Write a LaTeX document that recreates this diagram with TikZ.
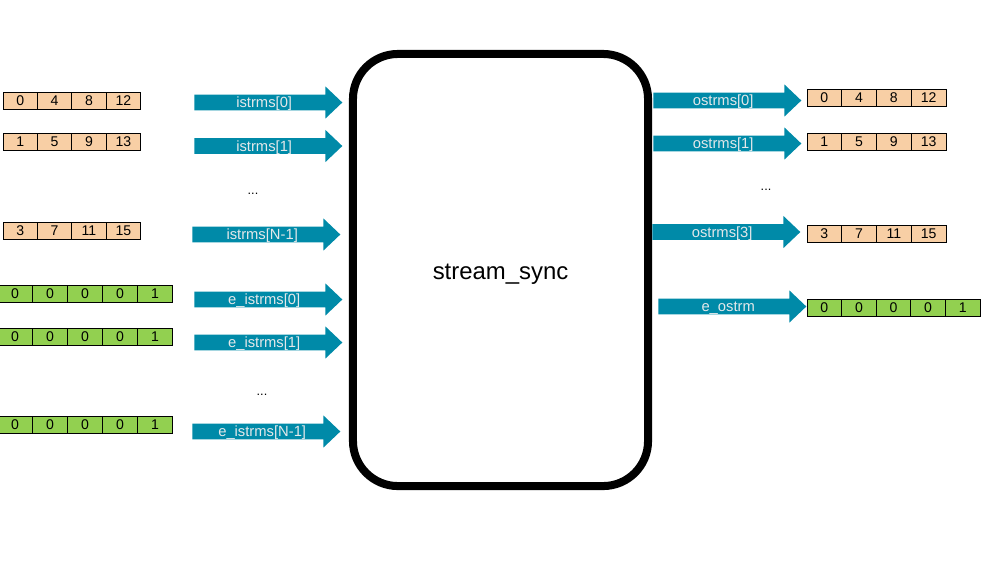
\documentclass[tikz,border=0pt]{standalone}
\usepackage{fontspec}
\setmainfont{Liberation Sans}
\usetikzlibrary{shapes.arrows}
\definecolor{cellpeach}{RGB}{248,207,165}
\definecolor{cellgreen}{RGB}{146,208,80}
\definecolor{flowteal}{RGB}{0,138,168}
\definecolor{flowtext}{RGB}{228,232,234}
\tikzset{
    cell/.style={draw, line width=0.6pt, minimum height=0.425cm, inner sep=0pt,
        font=\fontsize{10}{12}\selectfont},
    flow/.style={single arrow, fill=flowteal, text=flowtext, anchor=tail,
        minimum height=3.7cm, single arrow head extend=5.9pt, single arrow tip angle=87,
        text height=8.85pt, text depth=1.45pt, inner ysep=0.2pt, inner xsep=0pt,
        font=\fontsize{10.5}{12}\selectfont},
    dots/.style={font=\fontsize{9}{10}\selectfont}
}
\begin{document}
\begin{tikzpicture}[x=0.025cm, y=-0.025cm]
    \useasboundingbox (0,0) rectangle (983,562);

    \node[draw, line width=5.7pt, rounded corners=32pt, minimum width=7.375cm, minimum height=10.8cm,
        text height=14pt, text depth=0pt, font=\fontsize{17}{20}\selectfont] (sync) at (500.5,270) {stream\_sync};

    \foreach \n/\x/\w/\y/\c/\vals in {
        ia0/3/34.4/100.5/cellpeach/{0,4,8,12},
        ia1/3/34.4/141.5/cellpeach/{1,5,9,13},
        iaN/3/34.4/230.5/cellpeach/{3,7,11,15},
        ea0/-2.5/35/293.5/cellgreen/{0,0,0,0,1},
        ea1/-2.5/35/336.5/cellgreen/{0,0,0,0,1},
        eaN/-2.5/35/424.5/cellgreen/{0,0,0,0,1},
        oa0/807/34.75/98/cellpeach/{0,4,8,12},
        oa1/807/34.75/141.5/cellpeach/{1,5,9,13},
        oa3/807/34.75/234/cellpeach/{3,7,11,15},
        eo/807/34.6/308/cellgreen/{0,0,0,0,1}} {
        \foreach \v [count=\i] in \vals {
            \node[cell, fill=\c, minimum width=\w*0.025cm] (\n-\i) at (\x+\w*\i-\w/2,\y) {\v};
        }
    }

    \node[flow] (fi0) at (194,102.5) {istrms[0]};
    \node[flow] (fi1) at (194,146) {istrms[1]};
    \node[dots] (idots) at (253,194) {...};
    \node[flow] (fiN) at (192,234.5) {istrms[N-1]};
    \node[flow] (fe0) at (194,299.5) {e\_istrms[0]};
    \node[flow] (fe1) at (194,342.5) {e\_istrms[1]};
    \node[dots] (edots) at (262,395) {...};
    \node[flow] (feN) at (192,431.5) {e\_istrms[N-1]};

    \node[flow] (fo0) at (653,100.5) {ostrms[0]};
    \node[flow] (fo1) at (653,143.5) {ostrms[1]};
    \node[dots] (odots) at (766,190) {...};
    \node[flow] (fo3) at (652,232) {ostrms[3]};
    \node[flow] (feo) at (658,306.5) {e\_ostrm};
\end{tikzpicture}
\end{document}
